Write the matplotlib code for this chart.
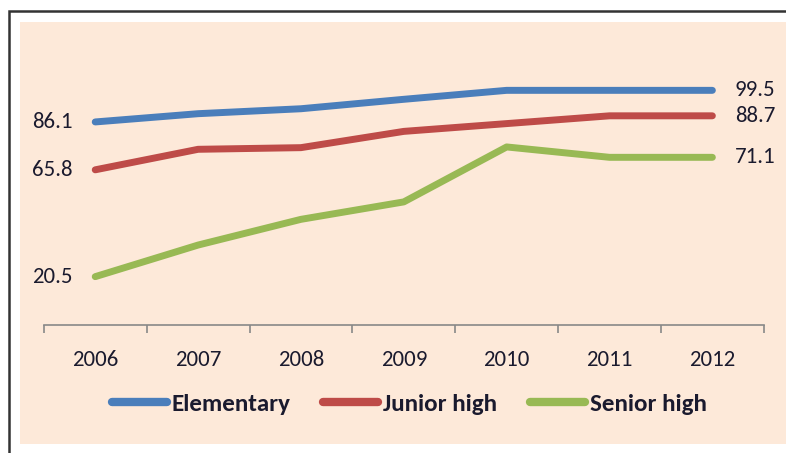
import matplotlib.pyplot as plt
from matplotlib.patches import Rectangle
from matplotlib import font_manager

# data
years = ['2006', '2007', '2008', '2009', '2010', '2011', '2012']
elementary = [86.1, 89.6, 91.7, 95.7, 99.5, 99.5, 99.5]
junior_high = [65.8, 74.5, 75.2, 82.1, 85.4, 88.7, 88.7]
senior_high = [20.5, 33.9, 44.8, 52.2, 75.5, 71.1, 71.1]
series_names = ['Elementary', 'Junior high', 'Senior high']
colors = ['#4A7EBB', '#BE4B48', '#98B954']

names = {f.name for f in font_manager.fontManager.ttflist}
fam = 'DejaVu Sans'
for cand in ['Carlito', 'Liberation Sans Narrow', 'Roboto Condensed', 'Open Sans Condensed', 'Lato']:
    if cand in names:
        fam = cand
        break
plt.rcParams['font.family'] = [fam, 'DejaVu Sans']
txt_color = '#1a1a2e'
fs = 16.5

W, H = 786, 453
fig = plt.figure(figsize=(W / 100, H / 100), dpi=100)
fig.patch.set_facecolor('white')

# outer frame and peach chart area
fig.patches.append(Rectangle((8.5 / W, -0.1), 1.2, 1 - 10.5 / H + 0.1, transform=fig.transFigure,
                             facecolor='none', edgecolor='#333333', linewidth=1.8, zorder=-2))
fig.patches.append(Rectangle((20 / W, 1 - 444 / H), 1.0, (444 - 22) / H, transform=fig.transFigure,
                             facecolor='#FDE9D9', edgecolor='none', zorder=-1))

ax = fig.add_axes([43.8 / W, 1 - 325 / H, (763.8 - 43.8) / W, (325 - 42) / H])
ax.set_facecolor('none')

x = list(range(len(years)))
all_series = [elementary, junior_high, senior_high]
for vals, name, c in zip(all_series, series_names, colors):
    ax.plot(x, vals, color=c, linewidth=5, solid_capstyle='round', solid_joinstyle='round', label=name)
    ax.text(x[0] - 0.22, vals[0], f'{vals[0]}', ha='right', va='center', fontsize=fs, color=txt_color)
    ax.text(x[-1] + 0.22, vals[-1], f'{vals[-1]}', ha='left', va='center', fontsize=fs, color=txt_color)

ax.set_xlim(-0.5, len(years) - 0.5)
ax.set_ylim(0, 120)
ax.set_yticks([])
for s in ['top', 'right', 'left']:
    ax.spines[s].set_visible(False)
ax.spines['bottom'].set_color('#888888')
ax.spines['bottom'].set_linewidth(1.2)

ax.set_xticks(x)
ax.set_xticklabels(years, fontsize=fs, color=txt_color)
ax.tick_params(axis='x', which='major', length=0, pad=18)
ax.set_xticks([i - 0.5 for i in range(len(years) + 1)], minor=True)
ax.tick_params(axis='x', which='minor', length=6, width=1.2, color='#888888', direction='out')

leg = fig.legend(loc='center', bbox_to_anchor=(409 / W, 1 - 404 / H), ncol=3, frameon=False,
                 handlelength=2.2, handletextpad=0.2, columnspacing=1.3,
                 prop={'family': fam, 'size': 18, 'weight': 'bold'})
for t in leg.get_texts():
    t.set_color(txt_color)
for h in leg.legend_handles:
    h.set_linewidth(6)
    h.set_solid_capstyle('round')

fig.savefig('out.png', dpi=100)
